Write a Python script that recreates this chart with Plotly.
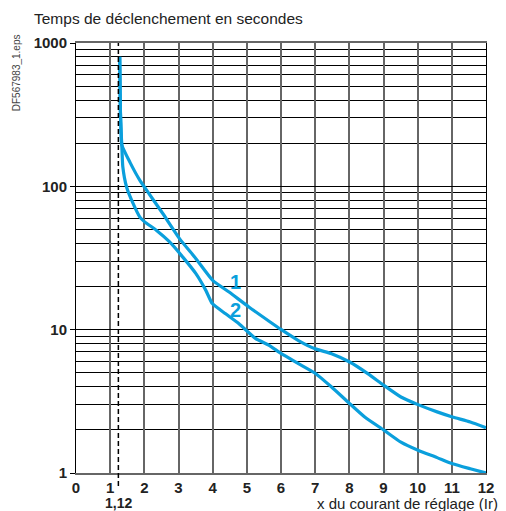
import plotly.graph_objects as go
import numpy as np

# curve 1 (upper) and curve 2 (lower)
curve1_x = [1.28, 1.29, 1.30, 1.32, 1.34, 1.58, 1.87, 2.0, 2.54, 3.03, 3.51, 4.0, 4.48, 5.06, 5.64, 6.01,
            6.51, 7.0, 7.48, 8.01, 8.54, 9.01, 9.51, 10.01, 10.57, 11.02, 11.54, 12.0]
curve1_y = [800, 500, 330, 240, 195, 147, 110, 99, 64.6, 43.2, 31.3, 22.1, 18.3, 14.4, 11.5, 10.0,
            8.4, 7.35, 6.8, 5.95, 4.94, 4.09, 3.39, 3.0, 2.67, 2.46, 2.27, 2.07]

curve2_x = [1.28, 1.29, 1.30, 1.32, 1.34, 1.37, 1.48, 1.67, 1.87, 2.01, 2.35, 2.74, 3.12, 3.51, 3.80, 3.99,
            4.38, 4.77, 5.25, 5.64, 6.01, 6.51, 7.01, 7.48, 8.01, 8.45, 9.01, 9.51, 10.01, 10.57, 11.02, 11.54, 12.0]
curve2_y = [800, 500, 330, 240, 195, 137, 99, 76, 61, 56.5, 49.4, 40.9, 32.2, 24.6, 18.8, 15.2,
            12.9, 11.0, 8.7, 7.8, 6.8, 5.8, 4.95, 3.98, 3.05, 2.46, 1.99, 1.64, 1.44, 1.28, 1.16, 1.07, 1.0]

x_ticks = list(range(0, 13))
y_ticks = [1, 10, 100, 1000]
y_minor = [m * d for d in (1, 10, 100) for m in range(2, 10)]

threshold_x = 1.24   # dashed line as drawn
threshold_label = "1,12"
labels = [("1", 4.67, 21.5), ("2", 4.67, 13.7)]

blue = "#0a9fdc"
font = "Liberation Sans, Arial, sans-serif"

fig = go.Figure()
fig.add_trace(go.Scatter(x=curve1_x, y=curve1_y, mode="lines",
                         line=dict(color=blue, width=3.2, shape="spline", smoothing=0.5)))
fig.add_trace(go.Scatter(x=curve2_x, y=curve2_y, mode="lines",
                         line=dict(color=blue, width=3.2, shape="spline", smoothing=0.5)))

# dashed line at the threshold, running a little below the axis
fig.add_shape(type="line", xref="x", yref="paper", x0=threshold_x, x1=threshold_x, y0=-0.03, y1=1,
              line=dict(color="black", width=1.5, dash="5px,3px"), layer="above")

for txt, lx, ly in labels:
    fig.add_annotation(x=lx, y=np.log10(ly), text="<b>%s</b>" % txt, showarrow=False,
                       font=dict(family=font, size=20, color=blue))

fig.add_annotation(x=threshold_x, xref="x", y=-0.07, yref="paper", text="<b>%s</b>" % threshold_label,
                   showarrow=False, font=dict(family=font, size=14, color="#222"), yanchor="middle")
fig.add_annotation(x=1.038, xref="paper", y=-0.07, yref="paper", text="x du courant de réglage (Ir)",
                   showarrow=False, xanchor="right", yanchor="middle", xshift=-2,
                   font=dict(family=font, size=15, color="#222"))
fig.add_annotation(x=-0.1065, xref="paper", y=1.057, yref="paper", text="Temps de déclenchement en secondes",
                   showarrow=False, xanchor="left", yanchor="middle",
                   font=dict(family=font, size=15.5, color="#222"))
fig.add_annotation(x=-0.146, xref="paper", y=0.93, yref="paper", text="DF567983_1.eps", textangle=-90,
                   showarrow=False, xanchor="center", yanchor="middle",
                   font=dict(family=font, size=10, color="#444"))

fig.update_xaxes(range=[0, 12], tickvals=x_ticks, ticktext=["<b>%d</b>" % v for v in x_ticks],
                 tickfont=dict(family=font, size=15, color="#222"), ticks="",
                 showgrid=True, gridcolor="#666", gridwidth=1.5, zeroline=False,
                 showline=True, linecolor="#666", linewidth=1.5, mirror=True)
fig.update_yaxes(type="log", range=[0, 3], tickvals=y_ticks, ticktext=["<b>%d</b>" % v for v in y_ticks],
                 tickfont=dict(family=font, size=15, color="#222"), ticks="outside", ticklen=5,
                 tickcolor="black", showgrid=True, gridcolor="black", gridwidth=1,
                 minor=dict(tickvals=y_minor, showgrid=True, gridcolor="black", gridwidth=1, ticks=""),
                 showline=True, linecolor="black", linewidth=1, mirror=True)

# the page adds an 8px body margin, so the figure is drawn 8px smaller
fig.update_layout(width=498, height=503, showlegend=False, plot_bgcolor="white", paper_bgcolor="white",
                  margin=dict(l=67.7, r=17, t=34.7, b=38.3))

fig.write_html("out.html")
